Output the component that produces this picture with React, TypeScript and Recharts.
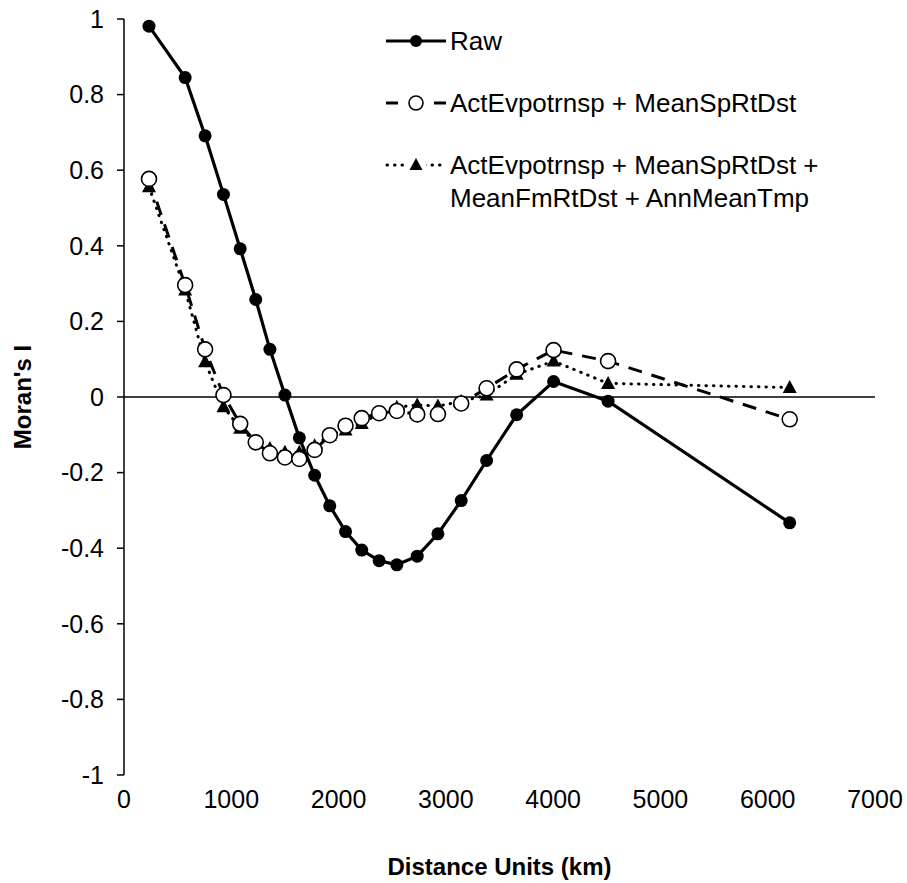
import { Legend, Line, LineChart, ReferenceLine, XAxis, YAxis } from "recharts";

// distance class midpoints (km)
const distances = [
  233, 570, 756, 927, 1083, 1228, 1360, 1500, 1634, 1777, 1918, 2065, 2216,
  2378, 2543, 2733, 2926, 3143, 3380, 3660, 4004, 4512, 6205,
];

const rawI = [
  0.981, 0.845, 0.691, 0.536, 0.392, 0.258, 0.126, 0.005, -0.108, -0.207,
  -0.288, -0.356, -0.405, -0.433, -0.444, -0.421, -0.362, -0.274, -0.168,
  -0.047, 0.041, -0.011, -0.333,
];

const evpSp = [
  0.577, 0.296, 0.126, 0.005, -0.071, -0.12, -0.149, -0.16, -0.164, -0.14,
  -0.101, -0.076, -0.056, -0.043, -0.037, -0.046, -0.045, -0.017, 0.023,
  0.073, 0.124, 0.095, -0.059,
];

const evpSpFmTmp = [
  0.556, 0.283, 0.093, -0.026, -0.083, -0.118, -0.136, -0.146, -0.146, -0.129,
  -0.101, -0.087, -0.07, -0.043, -0.027, -0.021, -0.024, -0.012, 0.005, 0.06,
  0.095, 0.036, 0.025,
];

const xTicks = [0, 1000, 2000, 3000, 4000, 5000, 6000, 7000];
const yTicks = [-1, -0.8, -0.6, -0.4, -0.2, 0, 0.2, 0.4, 0.6, 0.8, 1];

const data = distances.map((d, i) => ({
  d,
  raw: rawI[i],
  two: evpSp[i],
  four: evpSpFmTmp[i],
}));

const FONT = '"Liberation Sans", Arial, Helvetica, sans-serif';

const RawDot = (p: any) => (
  <circle key={`r${p.index}`} cx={p.cx} cy={p.cy} r={6.5} fill="#000" />
);

const OpenDot = (p: any) => (
  <circle
    key={`o${p.index}`}
    cx={p.cx}
    cy={p.cy}
    r={7.5}
    fill="#fff"
    stroke="#000"
    strokeWidth={1.6}
  />
);

const TriDot = (p: any) => (
  <path
    key={`t${p.index}`}
    d={`M${p.cx},${p.cy - 7.5} L${p.cx + 7},${p.cy + 5.5} L${p.cx - 7},${p.cy + 5.5} Z`}
    fill="#000"
  />
);

function LegendBox() {
  const row = { display: "flex", alignItems: "flex-start", height: 62 };
  const txt = { fontSize: 26, lineHeight: "33px", color: "#000" };
  return (
    <div style={{ fontFamily: FONT }}>
      <div style={row}>
        <svg width={66} height={33}>
          <line x1={2} x2={62} y1={16} y2={16} stroke="#000" strokeWidth={3} />
          <circle cx={32} cy={16} r={6} fill="#000" />
        </svg>
        <span style={txt}>Raw</span>
      </div>
      <div style={row}>
        <svg width={66} height={33}>
          <line x1={2} x2={14} y1={16} y2={16} stroke="#000" strokeWidth={3} />
          <line x1={50} x2={62} y1={16} y2={16} stroke="#000" strokeWidth={3} />
          <circle cx={32} cy={16} r={7} fill="#fff" stroke="#000" strokeWidth={1.6} />
        </svg>
        <span style={txt}>ActEvpotrnsp + MeanSpRtDst</span>
      </div>
      <div style={row}>
        <svg width={66} height={33}>
          <line
            x1={3}
            x2={62}
            y1={16}
            y2={16}
            stroke="#000"
            strokeWidth={3}
            strokeLinecap="round"
            strokeDasharray="0.5 7"
          />
          <rect x={22} y={6} width={20} height={20} fill="#fff" />
          <path d="M32,9 L38.5,21 L25.5,21 Z" fill="#000" />
        </svg>
        <span style={txt}>
          ActEvpotrnsp + MeanSpRtDst +
          <br />
          MeanFmRtDst + AnnMeanTmp
        </span>
      </div>
    </div>
  );
}

export default function App() {
  const tick = { fill: "#000", fontSize: 25, fontFamily: FONT };
  return (
    <div
      style={{
        position: "absolute",
        left: 0,
        top: 0,
        width: 907,
        height: 883,
        background: "#fff",
      }}
    >
      <LineChart
        width={907}
        height={883}
        data={data}
        margin={{ top: 19, right: 32, bottom: 0, left: 0 }}
      >
        <XAxis
          type="number"
          dataKey="d"
          domain={[0, 7000]}
          ticks={xTicks}
          interval={0}
          axisLine={false}
          tickLine={false}
          tickMargin={9}
          height={108}
          tick={tick}
          label={{
            value: "Distance Units (km)",
            position: "insideBottom",
            offset: 8,
            style: {
              fontFamily: FONT,
              fontWeight: "bold",
              fontSize: 24,
              fill: "#000",
            },
          }}
        />
        <YAxis
          type="number"
          domain={[-1, 1]}
          ticks={yTicks}
          interval={0}
          width={124}
          axisLine={{ stroke: "#000", strokeWidth: 1.5 }}
          tickLine={{ stroke: "#000", strokeWidth: 1.5 }}
          tickSize={7}
          tickMargin={13}
          tick={tick}
          tickFormatter={(v: number) => String(Number(v.toFixed(1)))}
          label={{
            value: "Moran's I",
            angle: -90,
            position: "insideLeft",
            offset: 22,
            style: {
              fontFamily: FONT,
              fontWeight: "bold",
              fontSize: 24,
              fill: "#000",
              textAnchor: "middle",
            },
          }}
        />
        <ReferenceLine y={0} stroke="#000" strokeWidth={1.5} />
        <Legend
          layout="vertical"
          align="center"
          verticalAlign="middle"
          wrapperStyle={{ left: 384, top: 25, width: 480 }}
          content={() => <LegendBox />}
        />
        <Line
          dataKey="four"
          stroke="#000"
          strokeWidth={3}
          strokeLinecap="round"
          strokeDasharray="0.5 7"
          dot={TriDot}
          activeDot={false}
          isAnimationActive={false}
        />
        <Line
          dataKey="two"
          stroke="#000"
          strokeWidth={3}
          strokeDasharray="14 10"
          dot={OpenDot}
          activeDot={false}
          isAnimationActive={false}
        />
        <Line
          dataKey="raw"
          stroke="#000"
          strokeWidth={3.2}
          dot={RawDot}
          activeDot={false}
          isAnimationActive={false}
        />
      </LineChart>
    </div>
  );
}
